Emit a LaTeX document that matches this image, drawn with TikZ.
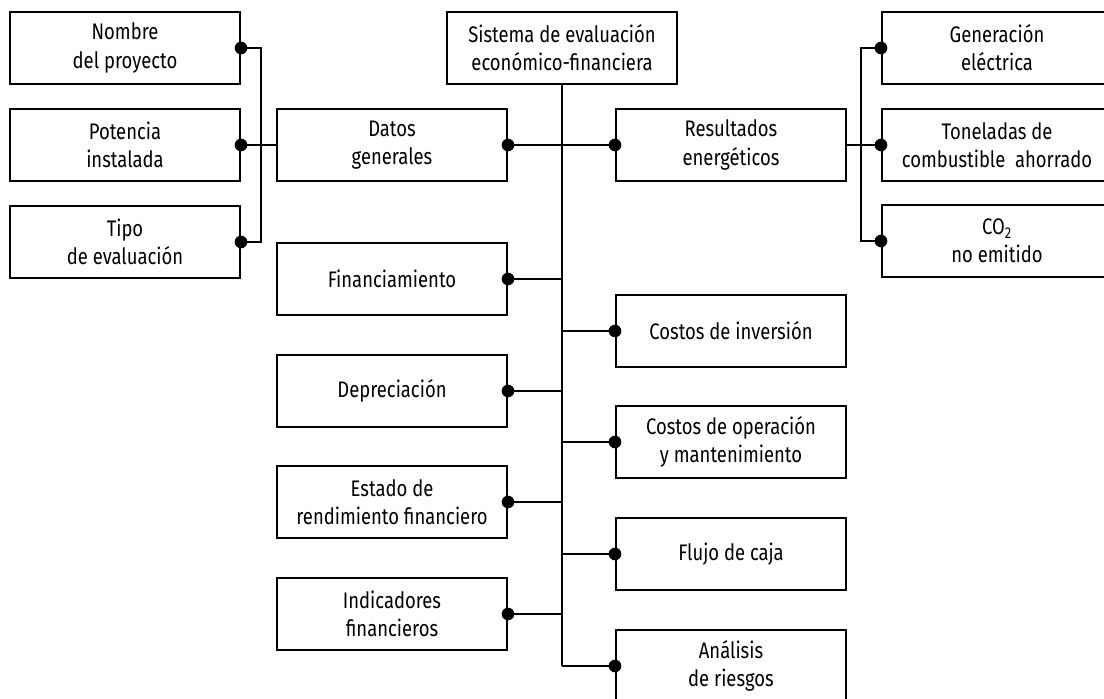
\documentclass[tikz,border=0pt]{standalone}
\usepackage{fontspec}
\setmainfont[FakeStretch=0.82]{Fira Sans}
\usetikzlibrary{calc}

\begin{document}
\begin{tikzpicture}[x=0.025cm, y=-0.025cm,
    box/.style={draw, line width=1.4pt, minimum width=5.75cm, minimum height=1.8cm,
      inner sep=0pt, align=center, font=\fontsize{16}{20}\selectfont},
    link/.style={line width=1.3pt},
    dot/.style={radius=4.5pt}]
    \useasboundingbox (0,0) rectangle (1104,698);
    \clip (0,0) rectangle (1104,698);

    \node[box] (nombre) at (125,48) {Nombre\\del proyecto};
    \node[box] (potencia) at (125,145) {Potencia\\instalada};
    \node[box] (tipo) at (125,242) {Tipo\\de evaluación};
    \node[box] (datos) at (392,145) {Datos\\generales};
    \node[box] (sistema) at (562,48) {Sistema de evaluación\\económico-financiera};
    \node[box] (resultados) at (731,145) {Resultados\\energéticos};
    \node[box] (generacion) at (997,48) {Generación\\eléctrica};
    \node[box] (toneladas) at (997,145) {Toneladas de\\combustible\ \ ahorrado};
    \node[box] (co2) at (997,241) {CO\textsubscript{2}\\no emitido};

    \node[box] (financiamiento) at (392,279) {Financiamiento};
    \node[box] (depreciacion) at (392,391) {Depreciación};
    \node[box] (estado) at (392,502) {Estado de\\rendimiento financiero};
    \node[box] (indicadores) at (392,614) {Indicadores\\financieros};

    \node[box] (inversion) at (731,331) {Costos de inversión};
    \node[box] (operacion) at (731,442) {Costos de operación\\y mantenimiento};
    \node[box] (flujo) at (731,554) {Flujo de caja};
    \node[box] (analisis) at (731,666) {Análisis\\de riesgos};

    \draw[link] (nombre.east) -- ++(20,0) |- (tipo.east);
    \draw[link] (potencia.east) -- (datos.west);
    \draw[link] (datos.east) -- (resultados.west);
    \draw[link] (resultados.east) -- (toneladas.west);
    \draw[link] (generacion.west) -- ++(-20,0) |- (co2.west);

    \draw[link] (sistema.south) -- (sistema.south |- analisis.west);
    \draw[link] (financiamiento.east) -- (financiamiento.east -| sistema.south);
    \draw[link] (depreciacion.east) -- (depreciacion.east -| sistema.south);
    \draw[link] (estado.east) -- (estado.east -| sistema.south);
    \draw[link] (indicadores.east) -- (indicadores.east -| sistema.south);
    \draw[link] (inversion.west) -- (inversion.west -| sistema.south);
    \draw[link] (operacion.west) -- (operacion.west -| sistema.south);
    \draw[link] (flujo.west) -- (flujo.west -| sistema.south);
    \draw[link] (analisis.west) -- (analisis.west -| sistema.south);

    % dots
    \fill (nombre.east) circle[dot];
    \fill (potencia.east) circle[dot];
    \fill (tipo.east) circle[dot];
    \fill (datos.east) circle[dot];
    \fill (resultados.west) circle[dot];
    \fill (generacion.west) circle[dot];
    \fill (toneladas.west) circle[dot];
    \fill (co2.west) circle[dot];
    \fill (financiamiento.east) circle[dot];
    \fill (depreciacion.east) circle[dot];
    \fill (estado.east) circle[dot];
    \fill (indicadores.east) circle[dot];
    \fill (inversion.west) circle[dot];
    \fill (operacion.west) circle[dot];
    \fill (flujo.west) circle[dot];
    \fill (analisis.west) circle[dot];
  \end{tikzpicture}
\end{document}
